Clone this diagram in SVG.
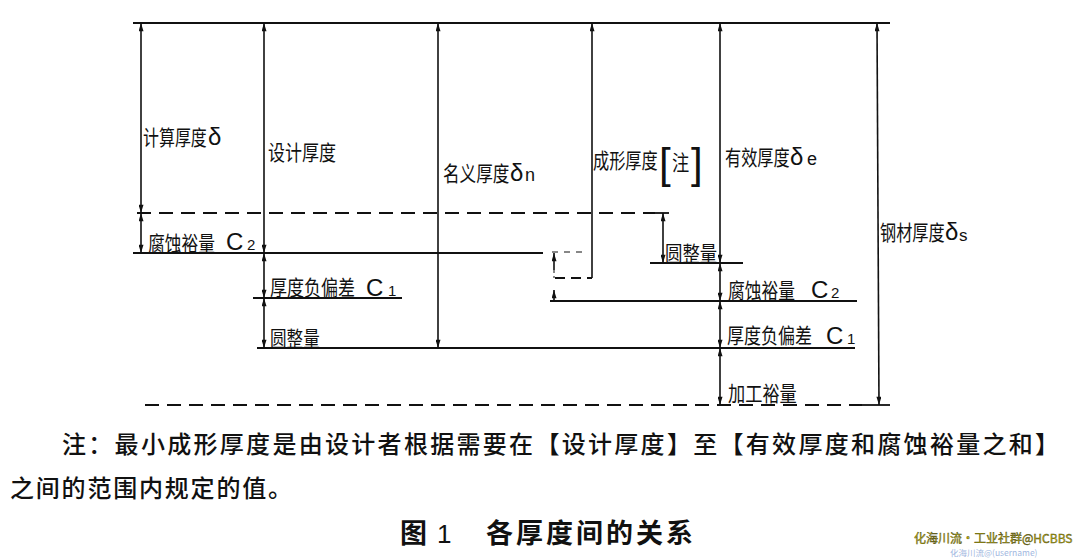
<svg xmlns="http://www.w3.org/2000/svg" width="1080" height="559" viewBox="0 0 1080 559">
<style>
.ln{stroke:#111;stroke-width:1.8;fill:none}
.dsh{stroke:#111;stroke-width:1.8;fill:none;stroke-dasharray:14 8}
.dim{stroke:#111;stroke-width:1.6;fill:none;marker-start:url(#arr);marker-end:url(#arr)}
.dim1{stroke:#111;stroke-width:1.6;fill:none;marker-start:url(#arr)}
.lb{font-family:"Noto Sans CJK SC","Noto Sans CJK JP",sans-serif;font-size:21px;fill:#111}
.lat{font-family:"Liberation Sans",Arial,sans-serif;fill:#111}
.note{font-family:"Noto Sans CJK SC",sans-serif;font-size:24px;font-weight:500;fill:#111}
.ttl{font-family:"Noto Sans CJK SC",sans-serif;font-size:27px;font-weight:bold;fill:#111}
.wm{font-family:"Noto Sans CJK SC",sans-serif}
</style>
<defs>
<marker id="arr" viewBox="0 0 10 6" refX="10" refY="3" markerWidth="9" markerHeight="5" markerUnits="userSpaceOnUse" orient="auto-start-reverse">
<path d="M0,0 L10,3 L0,6 z" fill="#111"/>
</marker>
</defs>
<rect width="1080" height="559" fill="#fff"/>

<g id="baselines">
<line class="ln" x1="133" y1="23" x2="890" y2="23"/>
<line class="dsh" x1="137" y1="213" x2="655" y2="213"/>
<line class="ln" x1="655" y1="213" x2="669" y2="213"/>
<line class="ln" x1="133" y1="253" x2="543" y2="253"/>
<line class="ln" x1="650" y1="263" x2="743" y2="263"/>
<line class="ln" x1="253" y1="298" x2="402" y2="298"/>
<line class="ln" x1="550" y1="301" x2="857" y2="301"/>
<line class="ln" x1="257" y1="348" x2="855" y2="348"/>
<line class="dsh" x1="145" y1="405" x2="862" y2="405"/>
<line class="ln" x1="862" y1="405" x2="890" y2="405"/>
<line class="dsh" x1="552" y1="252" x2="584" y2="252" style="stroke-dasharray:6 6;stroke-width:1.2"/>
<line class="dsh" x1="555" y1="278" x2="592" y2="278" style="stroke-dasharray:10 6"/>
</g>

<g id="connectors">
<line class="dim" x1="141" y1="23" x2="141" y2="213"/>
<line class="dim" x1="141" y1="213" x2="141" y2="253"/>
<line class="dim" x1="264" y1="23" x2="264" y2="253"/>
<line class="dim" x1="264" y1="253" x2="264" y2="298"/>
<line class="dim" x1="264" y1="298" x2="264" y2="348"/>
<line class="dim" x1="438" y1="23" x2="438" y2="348"/>
<line class="dim1" x1="592" y1="23" x2="592" y2="278"/>
<line class="dim1" x1="554" y1="253" x2="554" y2="270"/>
<line x1="554" y1="270" x2="554" y2="278" stroke="#111" stroke-width="1" stroke-dasharray="3 3"/>
<line class="dim1" x1="554" y1="290" x2="554" y2="301"/>
<line class="dim" x1="663" y1="213" x2="663" y2="263"/>
<line class="dim" x1="720" y1="23" x2="720" y2="263"/>
<line class="dim" x1="720" y1="263" x2="720" y2="301"/>
<line class="dim" x1="720" y1="301" x2="720" y2="348"/>
<line class="dim" x1="720" y1="348" x2="720" y2="405"/>
<line class="dim" x1="877" y1="23" x2="879" y2="405"/>
</g>

<g id="n-jisuan">
<text class="lb" transform="translate(143,145) scale(0.76,1)">计算厚度</text>
<text class="lat" x="208" y="145" font-size="24">δ</text>
</g>
<g id="n-sheji"><text class="lb" transform="translate(268,160) scale(0.81,1)">设计厚度</text></g>
<g id="n-mingyi">
<text class="lb" transform="translate(443,181) scale(0.79,1)">名义厚度</text>
<text class="lat" x="510" y="181" font-size="24">δ</text>
<text class="lat" x="525" y="181" font-size="18">n</text>
</g>
<g id="n-chengxing">
<text class="lb" transform="translate(593,168) scale(0.77,1)">成形厚度</text>
<text class="lat" x="659" y="178" font-size="42">[</text>
<text class="lb" transform="translate(672,170) scale(0.82,1)">注</text>
<text class="lat" x="691" y="178" font-size="42">]</text>
</g>
<g id="n-youxiao">
<text class="lb" transform="translate(725,165) scale(0.77,1)">有效厚度</text>
<text class="lat" x="790" y="165" font-size="24">δ</text>
<text class="lat" x="807" y="165" font-size="18">e</text>
</g>
<g id="n-gangcai">
<text class="lb" transform="translate(880,240) scale(0.77,1)">钢材厚度</text>
<text class="lat" x="945" y="240" font-size="24">δ</text>
<text class="lat" x="959" y="241" font-size="17">s</text>
</g>

<g id="n-fushi-l">
<text class="lb" transform="translate(148,251) scale(0.8,1)">腐蚀裕量</text>
<text class="lat" x="226" y="250" font-size="24">C</text><text class="lat" x="247" y="250" font-size="15">2</text>
</g>
<g id="n-fupiancha-l">
<text class="lb" transform="translate(270,295) scale(0.81,1)">厚度负偏差</text>
<text class="lat" x="366" y="296" font-size="24">C</text><text class="lat" x="388" y="296" font-size="15">1</text>
</g>
<g id="n-yuanzheng-l"><text class="lb" transform="translate(270,346) scale(0.79,1)">圆整量</text></g>
<g id="n-yuanzheng-r"><text class="lb" transform="translate(665,261) scale(0.83,1)">圆整量</text></g>
<g id="n-fushi-r">
<text class="lb" transform="translate(728,298) scale(0.8,1)">腐蚀裕量</text>
<text class="lat" x="811" y="298" font-size="24">C</text><text class="lat" x="831" y="298" font-size="15">2</text>
</g>
<g id="n-fupiancha-r">
<text class="lb" transform="translate(727,343) scale(0.81,1)">厚度负偏差</text>
<text class="lat" x="826" y="344" font-size="24">C</text><text class="lat" x="847" y="344" font-size="15">1</text>
</g>
<g id="n-jiagong"><text class="lb" transform="translate(728,401) scale(0.82,1)">加工裕量</text></g>

<g id="note">
<text class="note" x="62" y="453" letter-spacing="2.3">注：最小成形厚度是由设计者根据需要在【设计厚度】至【有效厚度和腐蚀裕量之和】</text>
<text class="note" x="10" y="497" letter-spacing="1.8">之间的范围内规定的值。</text>
</g>
<g id="title">
<text class="ttl" x="400" y="543">图</text>
<text class="lat" x="437" y="543" font-size="26">1</text>
<text class="ttl" x="486" y="543" letter-spacing="3">各厚度间的关系</text>
</g>
<g id="watermark">
<text class="wm" x="950" y="556" font-size="8.5" fill="#9fb7e0">化海川流@(username)</text>
<text class="wm" x="914" y="543" font-size="12" fill="#c2b300" stroke="#4a4a20" stroke-width="0.4">化海川流·工业社群@HCBBS</text>
</g>
</svg>
